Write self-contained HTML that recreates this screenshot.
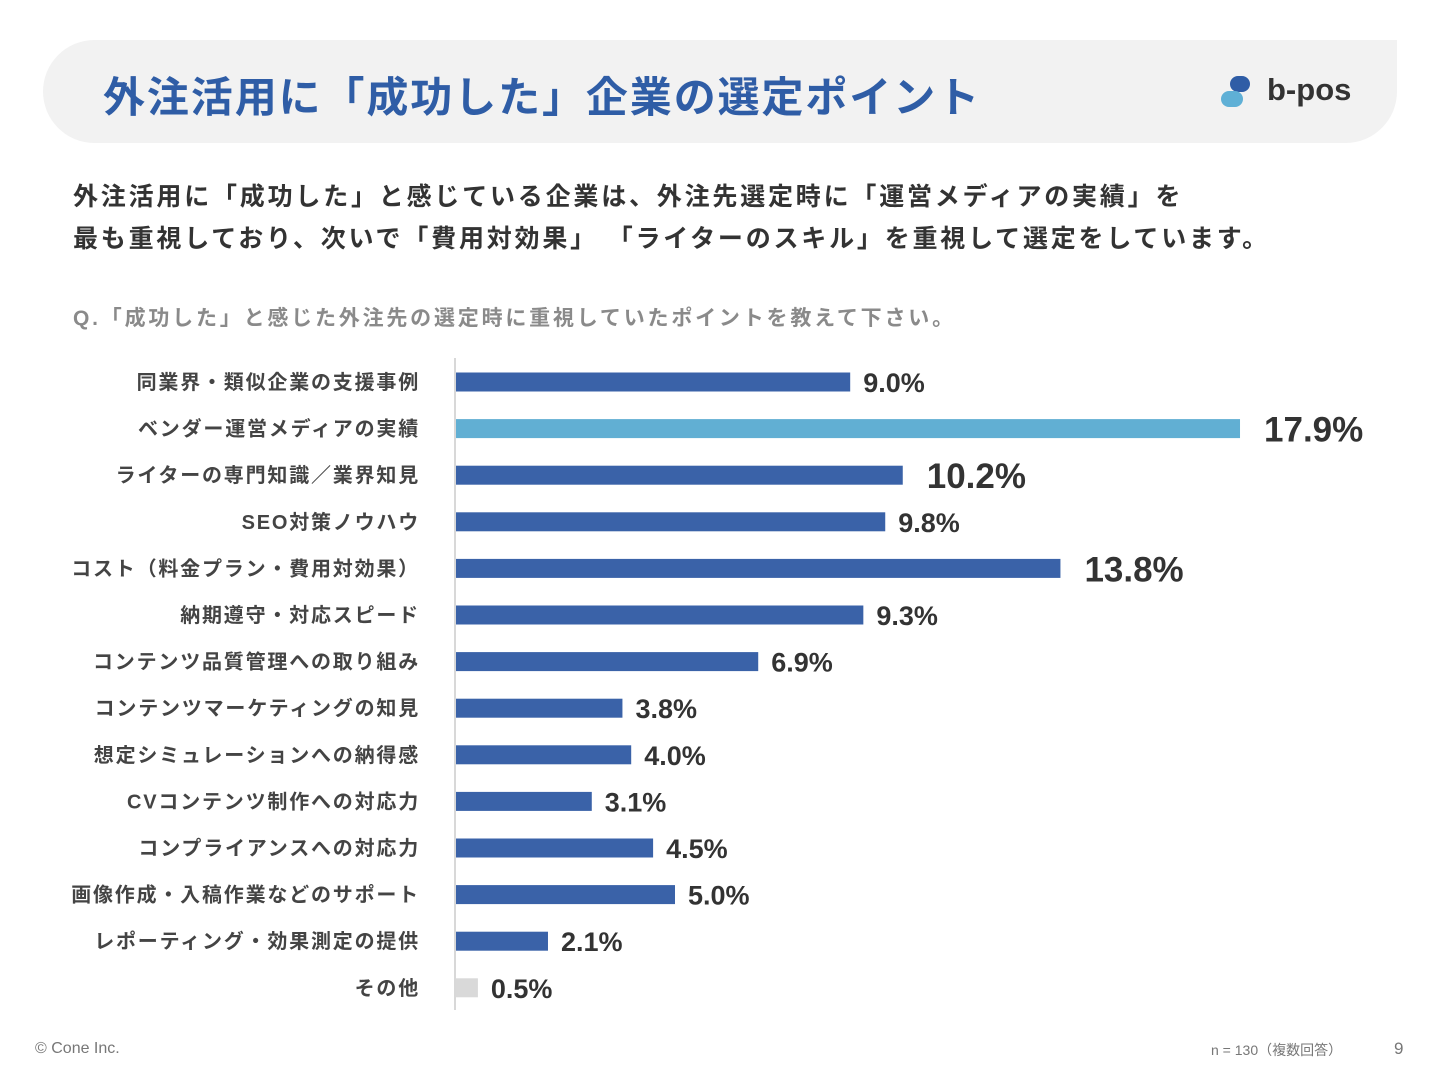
<!DOCTYPE html>
<html lang="ja"><head><meta charset="utf-8">
<style>
body{margin:0;width:1440px;height:1080px;background:#fff;font-family:"Liberation Sans","Noto Sans CJK JP",sans-serif;position:relative;overflow:hidden}
.hdr{position:absolute;left:43px;top:40px;width:1354px;height:103px;background:#f2f2f2;border-radius:52px 0 52px 52px}
.title{position:absolute;left:103px;top:64px;font-size:42px;font-weight:bold;color:#2f5da6;letter-spacing:1.9px;white-space:nowrap}
.sub{position:absolute;left:73px;top:176px;font-size:25px;font-weight:bold;color:#333;line-height:42px;white-space:nowrap;letter-spacing:2.8px}
.q{position:absolute;left:73px;top:302px;font-size:21px;color:#8a8a8a;font-weight:bold;white-space:nowrap;letter-spacing:2.8px}
.foot{position:absolute;font-size:15px;color:#777}
</style></head><body>
<div class="hdr"></div>
<div class="title">外注活用に「成功した」企業の選定ポイント</div>
<div style="position:absolute;left:1220px;top:74px;width:140px;height:36px">
 <svg width="34" height="36" style="position:absolute;left:0;top:0"><rect x="10" y="2" width="20" height="16" rx="8" fill="#2f5da6"/><rect x="1" y="17" width="22" height="16" rx="8" fill="#5fb0d6"/></svg>
 <span style="position:absolute;left:47px;top:-2px;font-size:31px;color:#333;font-weight:bold">b-pos</span>
</div>
<div class="sub">外注活用に「成功した」と感じている企業は、外注先選定時に「運営メディアの実績」を<br>最も重視しており、次いで「費用対効果」 「ライターのスキル」を重視して選定をしています。</div>
<div class="q">Q.「成功した」と感じた外注先の選定時に重視していたポイントを教えて下さい。</div>
<svg id="chart" width="1440" height="1080" style="position:absolute;left:0;top:0"></svg>
<div class="foot" style="left:35px;top:1040px;font-size:16px">© Cone Inc.</div>
<div class="foot" style="left:1211px;top:1040px;font-size:14px">n = 130（複数回答）</div>
<div class="foot" style="left:1394px;top:1039px;font-size:17px">9</div>
<script>
const categories=["同業界・類似企業の支援事例","ベンダー運営メディアの実績","ライターの専門知識／業界知見","SEO対策ノウハウ","コスト（料金プラン・費用対効果）","納期遵守・対応スピード","コンテンツ品質管理への取り組み","コンテンツマーケティングの知見","想定シミュレーションへの納得感","CVコンテンツ制作への対応力","コンプライアンスへの対応力","画像作成・入稿作業などのサポート","レポーティング・効果測定の提供","その他"];
const values=[9.0,17.9,10.2,9.8,13.8,9.3,6.9,3.8,4.0,3.1,4.5,5.0,2.1,0.5];
const valueLabels=["9.0%","17.9%","10.2%","9.8%","13.8%","9.3%","6.9%","3.8%","4.0%","3.1%","4.5%","5.0%","2.1%","0.5%"];
const svg=document.getElementById('chart');const NS='http://www.w3.org/2000/svg';
const x0=456,pxPer=43.8,y0=382,step=46.6,bh=19;
const xs=v=>x0+v*pxPer, ys=i=>y0+i*step;
const top3=[...values].slice(0,-1).sort((a,b)=>b-a).slice(0,3);
const ax=document.createElementNS(NS,'line');


ax.setAttribute('x1',455);ax.setAttribute('x2',455);ax.setAttribute('y1',358);ax.setAttribute('y2',1010);ax.setAttribute('stroke','#d8d8d8');ax.setAttribute('stroke-width','2');svg.appendChild(ax);
categories.forEach((c,i)=>{
 const y=ys(i),v=values[i];
 const t=document.createElementNS(NS,'text');
 
 
 t.setAttribute('x',420);t.setAttribute('y',y+7);t.setAttribute('text-anchor','end');t.setAttribute('font-size','20');t.setAttribute('font-weight','bold');t.setAttribute('letter-spacing','1.8');t.setAttribute('fill','#444');t.textContent=c;svg.appendChild(t);
 const r=document.createElementNS(NS,'rect');
 
 
 const col=i===categories.length-1?'#d9d9d9':(v===Math.max(...values)?'#61afd3':'#3a62a8');
 r.setAttribute('x',x0);r.setAttribute('y',y-bh/2);r.setAttribute('width',xs(v)-x0);r.setAttribute('height',bh);r.setAttribute('fill',col);svg.appendChild(r);
 const big=top3.includes(v)&&i!==categories.length-1;
 const l=document.createElementNS(NS,'text');
 
 
 l.setAttribute('x',xs(v)+(big?24:13));l.setAttribute('y',y+(big?13:10));l.setAttribute('font-size',big?'35':'27');l.setAttribute('font-weight','bold');l.setAttribute('fill','#333');l.textContent=valueLabels[i];svg.appendChild(l);
});
</script>
</body></html>
